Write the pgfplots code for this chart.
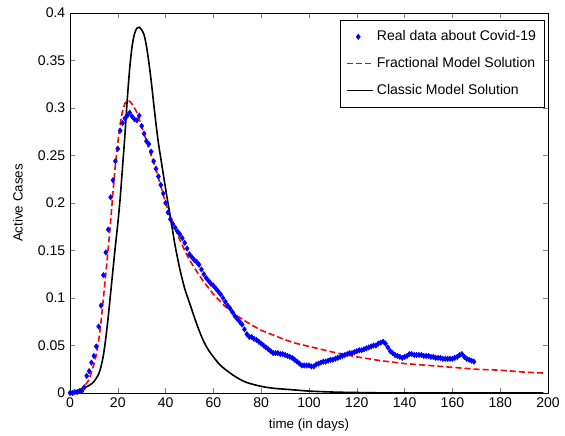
\documentclass[border=0pt]{standalone}
\usepackage{pgfplots}
\pgfplotsset{compat=1.18}
\usepackage{pgfplotstable}
\usepackage{fontspec}
\setmainfont{Liberation Sans}
\newcommand{\chartfont}{\fontsize{10.5}{12.6}\selectfont}

% real data (active cases, normalised)
\pgfplotstableread{
t y
0 0.000
1 0.000
2 0.001
3 0.001
4 0.002
5 0.002
6 0.006
7 0.018
8 0.023
9 0.032
10 0.039
11 0.049
12 0.070
13 0.092
14 0.124
15 0.148
16 0.172
17 0.206
18 0.224
19 0.244
20 0.257
21 0.276
22 0.284
23 0.289
24 0.292
25 0.295
26 0.291
27 0.288
28 0.287
29 0.292
30 0.281
31 0.273
32 0.265
33 0.262
34 0.254
35 0.244
36 0.236
37 0.228
38 0.219
39 0.210
40 0.200
41 0.190
42 0.183
43 0.178
44 0.174
45 0.170
46 0.167
47 0.163
48 0.158
49 0.152
50 0.146
51 0.143
52 0.140
53 0.138
54 0.135
55 0.130
56 0.125
57 0.121
58 0.118
59 0.115
60 0.113
61 0.110
62 0.107
63 0.104
64 0.100
65 0.096
66 0.092
67 0.089
68 0.085
69 0.081
70 0.078
71 0.075
72 0.072
73 0.067
74 0.062
75 0.059
76 0.059
77 0.057
78 0.056
79 0.054
80 0.052
81 0.050
82 0.048
83 0.046
84 0.044
85 0.042
86 0.042
87 0.042
88 0.041
89 0.041
90 0.040
91 0.039
92 0.038
93 0.037
94 0.035
95 0.033
96 0.031
97 0.029
98 0.029
99 0.029
100 0.029
101 0.028
102 0.028
103 0.030
104 0.031
105 0.032
106 0.033
107 0.033
108 0.034
109 0.035
110 0.035
111 0.036
112 0.037
113 0.038
114 0.039
115 0.040
116 0.041
117 0.042
118 0.042
119 0.043
120 0.044
121 0.045
122 0.045
123 0.046
124 0.047
125 0.048
126 0.049
127 0.050
128 0.050
129 0.052
130 0.053
131 0.054
132 0.052
133 0.048
134 0.044
135 0.042
136 0.040
137 0.039
138 0.038
139 0.037
140 0.038
141 0.039
142 0.041
143 0.041
144 0.040
145 0.040
146 0.040
147 0.040
148 0.039
149 0.039
150 0.039
151 0.038
152 0.038
153 0.037
154 0.037
155 0.037
156 0.036
157 0.036
158 0.036
159 0.036
160 0.036
161 0.037
162 0.038
163 0.040
164 0.041
165 0.038
166 0.036
167 0.035
168 0.034
169 0.033
}\realdata

\pgfplotstableread{
t y
0 0.000
2 0.001
4 0.003
6 0.007
8 0.014
10 0.030
11 0.040
12 0.055
13 0.075
14 0.100
15 0.126
16 0.152
17 0.180
18 0.212
19 0.240
20 0.263
21 0.283
22 0.297
23 0.305
24 0.308
25 0.307
26 0.304
27 0.300
28 0.295
29 0.288
30 0.281
32 0.265
34 0.250
36 0.235
38 0.218
40 0.200
42 0.186
44 0.173
46 0.161
48 0.150
50 0.140
53 0.128
56 0.117
60 0.104
65 0.091
70 0.081
75 0.073
80 0.066
85 0.061
90 0.056
95 0.052
100 0.049
110 0.043
120 0.038
130 0.034
140 0.031
150 0.029
160 0.027
170 0.025
180 0.024
190 0.022
198 0.021
}\fractional

\pgfplotstableread{
t y
0 0.000
4 0.003
8 0.008
10 0.012
12 0.020
13 0.028
14 0.040
15 0.058
16 0.080
17 0.105
18 0.130
19 0.155
20 0.178
21 0.205
22 0.238
23 0.272
24 0.310
25 0.342
26 0.365
27 0.378
28 0.384
29 0.385
30 0.382
31 0.377
32 0.365
33 0.348
34 0.328
35 0.305
36 0.283
37 0.263
38 0.247
39 0.231
40 0.215
41 0.200
42 0.185
43 0.170
44 0.155
46 0.130
48 0.110
50 0.095
52 0.080
54 0.066
56 0.054
58 0.045
60 0.038
63 0.029
67 0.021
70 0.016
74 0.011
80 0.007
85 0.005
90 0.004
95 0.003
100 0.002
110 0.001
120 0.0005
140 0.000
198 0.000
}\classic

\begin{document}
\begin{tikzpicture}
\begin{axis}[
    scale only axis,
    width=358pt,
    height=284.6pt,
    xmin=0, xmax=200,
    ymin=0, ymax=0.4,
    xtick={0,20,...,200},
    ytick={0,0.05,0.1,0.15,0.2,0.25,0.3,0.35,0.4},
    yticklabels={0,0.05,0.1,0.15,0.2,0.25,0.3,0.35,0.4},
    /pgf/number format/assume math mode=true,
    tick label style={font=\chartfont},
    label style={font=\chartfont},
    tick align=inside,
    major tick length=4pt,
    xlabel={time (in days)},
    ylabel={Active Cases},
    every axis x label/.style={at={(rel axis cs:0.5,0)}, yshift=-24pt, anchor=center},
    every axis y label/.style={at={(rel axis cs:0,0.5)}, xshift=-39pt, rotate=90, anchor=center},
    legend style={at={(0.992,0.982)}, anchor=north east,
        font=\chartfont, draw=black, row sep=7pt,
        inner xsep=4pt, inner ysep=6pt},
    legend cell align=left,
]
\addlegendimage{only marks, blue, mark=diamond*, mark size=2pt}
\addlegendentry{Real data about Covid-19}
\addlegendimage{legend image code/.code={%
    \draw[red, line width=1.2pt, dash pattern=on 4.5pt off 2.3pt] (0cm,0cm) -- (0.7cm,0cm);}}
\addlegendentry{Fractional Model Solution}
\addlegendimage{legend image code/.code={%
    \draw[black, line width=1.2pt] (0cm,0cm) -- (0.7cm,0cm);}}
\addlegendentry{Classic Model Solution}
\addplot[forget plot, only marks, blue, mark=diamond*, mark size=2pt] table[x=t,y=y] {\realdata};
\addplot[forget plot, red, line width=1.2pt, dash pattern=on 4.5pt off 2.3pt] table[x=t,y=y] {\fractional};
\addplot[forget plot, black, line width=1.2pt, smooth] table[x=t,y=y] {\classic};
\end{axis}
% page margins as in the reference
\path (current axis.south east) ++(12.7pt,0) coordinate (r);
\path (current axis.north west) ++(0,9.7pt) coordinate (t);
\path (current axis.west) ++(-52.4pt,0) coordinate (l);
\path (current axis.south) ++(0,-32pt) coordinate (b);
\end{tikzpicture}
\end{document}
